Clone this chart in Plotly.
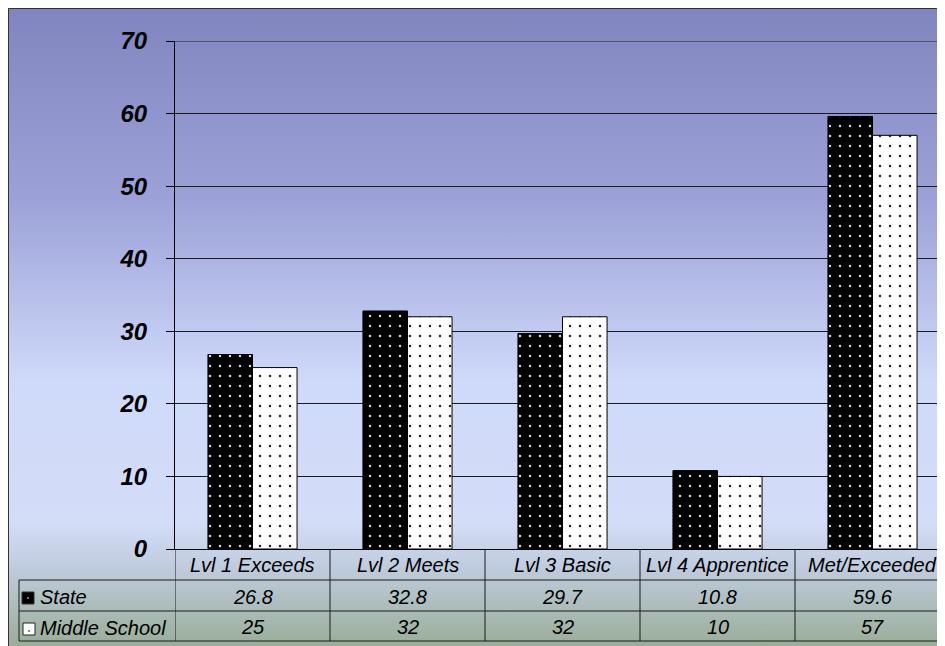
import base64
import plotly.graph_objects as go

categories = ["Lvl 1 Exceeds", "Lvl 2 Meets", "Lvl 3 Basic", "Lvl 4 Apprentice", "Met/Exceeded"]
state_vals = [26.8, 32.8, 29.7, 10.8, 59.6]
ms_vals = [25, 32, 32, 10, 57]
series_names = ["State", "Middle School"]
y_ticks = [0, 10, 20, 30, 40, 50, 60, 70]

W, H = 937, 638
OFF = 8  # page body margin
L, T, R = 167, 33, 0
B = H - (549 - OFF)
PW = W - L - R
PH = H - T - B
CAT_W = 155.0


def px_x(p):
    # p: pixel in window coordinates
    return (p - OFF - L) / PW


def px_y(p):
    return (H - B - (p - OFF)) / PH


svg = (
    '<svg xmlns="http://www.w3.org/2000/svg" width="100" height="100" viewBox="0 0 100 100" preserveAspectRatio="none">'
    '<defs><linearGradient id="g" x1="0" y1="0" x2="0" y2="1">'
    '<stop offset="0" stop-color="#8185BF"/>'
    '<stop offset="0.30" stop-color="#9CA2D8"/>'
    '<stop offset="0.58" stop-color="#CFD9F9"/>'
    '<stop offset="0.80" stop-color="#D3DDF8"/>'
    '<stop offset="0.87" stop-color="#C0CCDE"/>'
    '<stop offset="1" stop-color="#98AC96"/>'
    '</linearGradient></defs>'
    '<rect x="0" y="0" width="100" height="100" fill="url(#g)"/></svg>'
)
svg_uri = "data:image/svg+xml;base64," + base64.b64encode(svg.encode()).decode()

fig = go.Figure()
fig.add_trace(go.Bar(
    x=categories, y=state_vals, name=series_names[0],
    marker=dict(color="black", line=dict(color="black", width=1),
                pattern=dict(shape=".", fgcolor="#D8D8D8", bgcolor="black",
                             fillmode="replace", size=10, solidity=0.05)),
))
fig.add_trace(go.Bar(
    x=categories, y=ms_vals, name=series_names[1],
    marker=dict(color="white", line=dict(color="black", width=1),
                pattern=dict(shape=".", fgcolor="#222222", bgcolor="white",
                             fillmode="replace", size=10, solidity=0.05)),
))

shapes = []
line_c = "#1a1a1a"
# outer border
shapes.append(dict(type="rect", xref="paper", yref="paper",
                   x0=px_x(8.5), x1=px_x(960), y0=px_y(660), y1=px_y(8.5),
                   line=dict(color="#333333", width=1), layer="below"))
# top gridline (range edge)
shapes.append(dict(type="line", xref="paper", yref="y",
                   x0=0, x1=1, y0=y_ticks[-1], y1=y_ticks[-1],
                   line=dict(color=line_c, width=1), layer="below"))
# table horizontal lines
for yp in [580, 611, 641]:
    shapes.append(dict(type="line", xref="paper", yref="paper",
                       x0=px_x(19), x1=px_x(960), y0=px_y(yp), y1=px_y(yp),
                       line=dict(color=line_c, width=1)))
# left table border
shapes.append(dict(type="line", xref="paper", yref="paper",
                   x0=px_x(19), x1=px_x(19), y0=px_y(580), y1=px_y(641),
                   line=dict(color=line_c, width=1)))
# column separators
for i in range(len(categories) + 1):
    shapes.append(dict(type="line", xref="x", yref="paper",
                       x0=i - 0.5, x1=i - 0.5, y0=0, y1=px_y(641),
                       line=dict(color=line_c, width=1)))
# legend keys
shapes.append(dict(type="rect", xref="paper", yref="paper",
                   x0=px_x(22), x1=px_x(34), y0=px_y(604), y1=px_y(592),
                   fillcolor="black", line=dict(color="#333", width=1)))
shapes.append(dict(type="rect", xref="paper", yref="paper",
                   x0=px_x(27.3), x1=px_x(28.7), y0=px_y(598.7), y1=px_y(597.3),
                   fillcolor="#dddddd", line=dict(width=0)))
shapes.append(dict(type="rect", xref="paper", yref="paper",
                   x0=px_x(23), x1=px_x(35), y0=px_y(635), y1=px_y(623),
                   fillcolor="white", line=dict(color="#222", width=1)))
shapes.append(dict(type="rect", xref="paper", yref="paper",
                   x0=px_x(28.3), x1=px_x(29.7), y0=px_y(631.7), y1=px_y(630.3),
                   fillcolor="#222", line=dict(width=0)))

annotations = []
tfont = dict(family="Liberation Sans, Arial, sans-serif", size=20, color="black")
for c in categories:
    annotations.append(dict(x=c, y=px_y(565), xref="x", yref="paper", text="<i>%s</i>" % c,
                            showarrow=False, font=tfont, xanchor="center", yanchor="middle"))
for c, v in zip(categories, state_vals):
    annotations.append(dict(x=c, y=px_y(597), xref="x", yref="paper", text="<i>%s</i>" % v,
                            showarrow=False, font=tfont, xanchor="center", yanchor="middle"))
for c, v in zip(categories, ms_vals):
    annotations.append(dict(x=c, y=px_y(627), xref="x", yref="paper", text="<i>%s</i>" % v,
                            showarrow=False, font=tfont, xanchor="center", yanchor="middle"))
annotations.append(dict(x=px_x(38), y=px_y(597), xref="paper", yref="paper",
                        text="<i>%s</i>" % series_names[0],
                        showarrow=False, font=tfont, xanchor="left", yanchor="middle"))
annotations.append(dict(x=px_x(38), y=px_y(628), xref="paper", yref="paper",
                        text="<i>%s</i>" % series_names[1],
                        showarrow=False, font=tfont, xanchor="left", yanchor="middle"))

fig.update_layout(
    width=W, height=H,
    margin=dict(l=L, r=R, t=T, b=B, pad=0),
    paper_bgcolor="white", plot_bgcolor="rgba(0,0,0,0)",
    barmode="group", bargap=0.425, bargroupgap=0,
    showlegend=False,
    images=[dict(source=svg_uri, xref="paper", yref="paper",
                 x=px_x(8), y=px_y(8), sizex=px_x(960) - px_x(8), sizey=px_y(8) - px_y(650),
                 xanchor="left", yanchor="top", sizing="stretch", layer="below")],
    shapes=shapes,
    annotations=annotations,
    xaxis=dict(range=[-0.5, -0.5 + PW / CAT_W], showticklabels=False, ticks="",
               showline=True, linecolor="black", linewidth=1, showgrid=False,
               zeroline=False, fixedrange=True),
    yaxis=dict(range=[0, 70], tickvals=y_ticks,
               ticktext=["<b><i>%d</i></b>" % t for t in y_ticks],
               showgrid=True, gridcolor=line_c, gridwidth=1,
               ticks="outside", ticklen=8, tickcolor="black", tickwidth=1,
               showline=True, linecolor="black", linewidth=1, zeroline=False,
               ticklabelstandoff=14,
               tickfont=dict(family="Liberation Sans, Arial, sans-serif", size=24, color="black")),
)

fig.write_html("out.html")
